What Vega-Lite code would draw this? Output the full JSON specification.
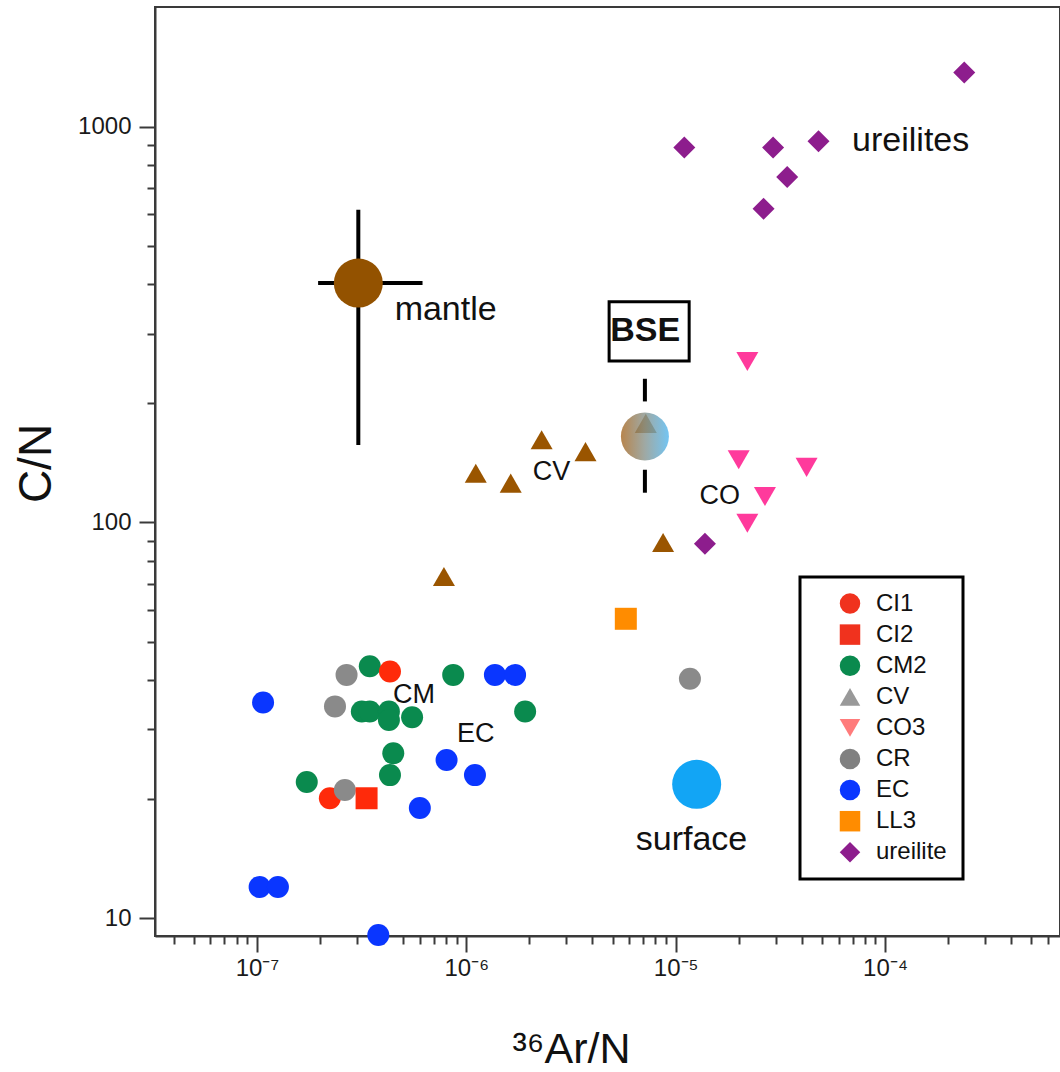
{
  "$schema": "https://vega.github.io/schema/vega-lite/v6.json",
  "width": 905,
  "height": 929,
  "autosize": {"type": "none"},
  "padding": {"left": 155, "top": 7, "right": 0, "bottom": 136},
  "background": "white",
  "config": {
    "font": "Liberation Sans",
    "view": {"stroke": "#3a3a3a", "strokeWidth": 2},
    "legend": {"strokeWidth": 3},
    "axis": {"grid": false, "domainColor": "#3a3a3a", "domainWidth": 2, "tickColor": "#3a3a3a", "tickWidth": 2, "labelColor": "#1a1a1a", "titleColor": "#111", "labelFont": "Liberation Sans", "titleFont": "Liberation Sans", "titleFontWeight": "normal"}
  },
  "datasets": {
    "pts": [
      {"group": "CM2", "x": 3.46e-7, "y": 43.3},
      {"group": "CM2", "x": 8.66e-7, "y": 41.2},
      {"group": "CM2", "x": 3.17e-7, "y": 33.3},
      {"group": "CM2", "x": 3.46e-7, "y": 33.3},
      {"group": "CM2", "x": 4.27e-7, "y": 33.3},
      {"group": "CM2", "x": 4.27e-7, "y": 31.7},
      {"group": "CM2", "x": 5.51e-7, "y": 32.2},
      {"group": "CM2", "x": 1.91e-6, "y": 33.3},
      {"group": "CM2", "x": 4.48e-7, "y": 26.1},
      {"group": "CM2", "x": 4.32e-7, "y": 23.0},
      {"group": "CM2", "x": 1.73e-7, "y": 22.1},
      {"group": "CI1", "x": 4.32e-7, "y": 42.0},
      {"group": "CI1", "x": 2.23e-7, "y": 20.1},
      {"group": "CR", "x": 2.68e-7, "y": 41.2},
      {"group": "CR", "x": 2.36e-7, "y": 34.3},
      {"group": "CR", "x": 2.63e-7, "y": 21.1},
      {"group": "CR", "x": 1.17e-5, "y": 40.3},
      {"group": "CI2", "x": 3.34e-7, "y": 20.1},
      {"group": "EC", "x": 1.07e-7, "y": 35.1},
      {"group": "EC", "x": 1.37e-6, "y": 41.2},
      {"group": "EC", "x": 1.71e-6, "y": 41.2},
      {"group": "EC", "x": 8.05e-7, "y": 25.1},
      {"group": "EC", "x": 1.10e-6, "y": 23.0},
      {"group": "EC", "x": 6.0e-7, "y": 19.0},
      {"group": "EC", "x": 1.03e-7, "y": 12.0},
      {"group": "EC", "x": 1.26e-7, "y": 12.0},
      {"group": "EC", "x": 3.80e-7, "y": 9.07},
      {"group": "LL3", "x": 5.78e-6, "y": 57.1},
      {"group": "CV", "x": 1.11e-6, "y": 133.2},
      {"group": "CV", "x": 1.63e-6, "y": 125.7},
      {"group": "CV", "x": 2.29e-6, "y": 161.8},
      {"group": "CV", "x": 3.71e-6, "y": 151.0},
      {"group": "CV", "x": 8.71e-6, "y": 89.0},
      {"group": "CV", "x": 7.82e-7, "y": 73.0},
      {"group": "CV", "x": 7.2e-6, "y": 178.0},
      {"group": "CO3", "x": 2.20e-5, "y": 255.0},
      {"group": "CO3", "x": 2.00e-5, "y": 144.0},
      {"group": "CO3", "x": 4.22e-5, "y": 137.8},
      {"group": "CO3", "x": 2.67e-5, "y": 116.3},
      {"group": "CO3", "x": 2.20e-5, "y": 99.6},
      {"group": "ureilite", "x": 1.10e-5, "y": 886},
      {"group": "ureilite", "x": 2.92e-5, "y": 886},
      {"group": "ureilite", "x": 4.81e-5, "y": 918},
      {"group": "ureilite", "x": 3.41e-5, "y": 746},
      {"group": "ureilite", "x": 2.63e-5, "y": 620},
      {"group": "ureilite", "x": 2.39e-4, "y": 1371},
      {"group": "ureilite", "x": 1.38e-5, "y": 88.4}
    ],
    "bars": [
      {"x": 3.05e-7, "x2": 3.05e-7, "y": 617, "y2": 157},
      {"x": 1.96e-7, "x2": 6.18e-7, "y": 402.7, "y2": 402.7},
      {"x": 7.13e-6, "x2": 7.13e-6, "y": 230.7, "y2": 202.2},
      {"x": 7.13e-6, "x2": 7.13e-6, "y": 135.9, "y2": 118.9}
    ],
    "mantle": [{"name": "mantle", "x": 3.05e-7, "y": 402.7}],
    "surface": [{"name": "surface", "x": 1.26e-5, "y": 21.8}],
    "bse": [{"name": "BSE", "x": 7.13e-6, "y": 164.9}],
    "box": [{"x": 4.81e-6, "x2": 1.16e-5, "y": 256, "y2": 361}],
    "bigLabels": [
      {"text": "mantle", "x": 7.97e-7, "y": 325.2},
      {"text": "surface", "x": 1.19e-5, "y": 14.88},
      {"text": "ureilites", "x": 1.326e-4, "y": 866}
    ],
    "smallLabels": [
      {"text": "CV", "x": 2.555e-6, "y": 128.2},
      {"text": "CO", "x": 1.626e-5, "y": 111.4},
      {"text": "CM", "x": 5.63e-7, "y": 34.95},
      {"text": "EC", "x": 1.109e-6, "y": 27.95}
    ],
    "bseLabel": [{"text": "BSE", "x": 7.15e-6, "y": 304}]
  },
  "encoding": {
    "x": {
      "field": "x", "type": "quantitative",
      "scale": {"type": "log", "domain": [3.26e-8, 6.85e-4], "nice": false},
      "axis": {
        "title": "³⁶Ar/N",
        "orient": "bottom",
        "values": [4e-8, 5e-8, 6e-8, 7e-8, 8e-8, 9e-8, 1e-7, 2e-7, 3e-7, 4e-7, 5e-7, 6e-7, 7e-7, 8e-7, 9e-7, 1e-6, 2e-6, 3e-6, 4e-6, 5e-6, 6e-6, 7e-6, 8e-6, 9e-6, 1e-5, 2e-5, 3e-5, 4e-5, 5e-5, 6e-5, 7e-5, 8e-5, 9e-5, 1e-4, 2e-4, 3e-4, 4e-4, 5e-4, 6e-4],
        "tickSize": {"condition": {"test": "abs(log(datum.value)/LN10 - round(log(datum.value)/LN10)) < 0.001", "value": 16}, "value": 8},
        "labelExpr": "abs(log(datum.value)/LN10 - round(log(datum.value)/LN10)) > 0.001 ? '' : (round(log(datum.value)/LN10) == -7 ? '10⁻⁷' : round(log(datum.value)/LN10) == -6 ? '10⁻⁶' : round(log(datum.value)/LN10) == -5 ? '10⁻⁵' : '10⁻⁴')",
        "labelFontSize": 24,
        "labelPadding": 4,
        "labelOverlap": false,
        "labelFlush": false,
        "labelBound": false,
        "titleFontSize": 43,
        "titleX": 416,
        "titleY": 126,
        "titleAlign": "center",
        "titleBaseline": "alphabetic"
      }
    },
    "y": {
      "field": "y", "type": "quantitative",
      "scale": {"type": "log", "domain": [9.02, 2006], "nice": false},
      "axis": {
        "title": "C/N",
        "orient": "left",
        "values": [20, 30, 40, 50, 60, 70, 80, 90, 10, 100, 200, 300, 400, 500, 600, 700, 800, 900, 1000],
        "tickSize": {"condition": {"test": "abs(log(datum.value)/LN10 - round(log(datum.value)/LN10)) < 0.001", "value": 16}, "value": 8},
        "labelExpr": "abs(log(datum.value)/LN10 - round(log(datum.value)/LN10)) > 0.001 ? '' : format(datum.value, 'd')",
        "labelFontSize": 24,
        "labelPadding": 8,
        "labelOverlap": false,
        "labelFlush": false,
        "labelBound": false,
        "titleFontSize": 46,
        "titleX": -105,
        "titleY": 456,
        "titleAlign": "center",
        "titleBaseline": "alphabetic",
        "titleAngle": 270
      }
    }
  },
  "layer": [
    {
      "data": {"name": "pts"},
      "mark": {"type": "point", "filled": true, "opacity": 1, "strokeWidth": 0},
      "encoding": {
        "color": {
          "field": "group", "type": "nominal",
          "scale": {"domain": ["CI1", "CI2", "CM2", "CV", "CO3", "CR", "EC", "LL3", "ureilite"],
                    "range": ["#ff2a0a", "#ff2a0a", "#0a8a4e", "#9a5500", "#ff3a9c", "#8a8a8a", "#0a36ff", "#ff8c00", "#8d1d8d"]},
          "legend": null
        },
        "shape": {
          "field": "group", "type": "nominal",
          "scale": {"domain": ["CI1", "CI2", "CM2", "CV", "CO3", "CR", "EC", "LL3", "ureilite"],
                    "range": ["circle", "square", "circle", "triangle-up", "triangle-down", "circle", "circle", "square", "diamond"]},
          "legend": null
        },
        "size": {
          "field": "group", "type": "nominal",
          "scale": {"domain": ["CI1", "CI2", "CM2", "CV", "CO3", "CR", "EC", "LL3", "ureilite"],
                    "range": [484, 484, 484, 324, 324, 484, 484, 484, 441]},
          "legend": null
        }
      }
    },
    {
      "data": {"name": "bars"},
      "mark": {"type": "rule", "color": "#000", "strokeWidth": 4},
      "encoding": {
        "x2": {"field": "x2"},
        "y2": {"field": "y2"}
      }
    },
    {
      "data": {"name": "mantle"},
      "mark": {"type": "point", "filled": true, "opacity": 1, "shape": "circle", "size": 2401, "color": "#935200", "strokeWidth": 0},
      "encoding": {}
    },
    {
      "data": {"name": "surface"},
      "mark": {"type": "point", "filled": true, "opacity": 1, "shape": "circle", "size": 2401, "color": "#12a5f5", "strokeWidth": 0},
      "encoding": {}
    },
    {
      "data": {"name": "bse"},
      "mark": {"type": "point", "filled": true, "opacity": 0.82, "shape": "circle", "size": 2304, "strokeWidth": 0,
               "color": {"gradient": "linear", "x1": 0, "y1": 0, "x2": 1, "y2": 0, "stops": [{"offset": 0, "color": "#a86a26"}, {"offset": 0.5, "color": "#8a9690"}, {"offset": 1, "color": "#55b8f0"}]}},
      "encoding": {}
    },
    {
      "data": {"name": "box"},
      "mark": {"type": "rect", "fill": "white", "fillOpacity": 0, "stroke": "#000", "strokeWidth": 3},
      "encoding": {
        "x2": {"field": "x2"},
        "y2": {"field": "y2"}
      }
    },
    {
      "data": {"name": "bigLabels"},
      "mark": {"type": "text", "fontSize": 34, "font": "Liberation Sans", "color": "#111", "align": "center", "baseline": "alphabetic"},
      "encoding": {"text": {"field": "text"}}
    },
    {
      "data": {"name": "smallLabels"},
      "mark": {"type": "text", "fontSize": 27, "font": "Liberation Sans", "color": "#111", "align": "center", "baseline": "alphabetic"},
      "encoding": {"text": {"field": "text"}}
    },
    {
      "data": {"name": "bseLabel"},
      "mark": {"type": "text", "fontSize": 34, "fontWeight": "bold", "font": "Liberation Sans", "color": "#111", "align": "center", "baseline": "middle"},
      "encoding": {"text": {"field": "text"}}
    },
    {
      "data": {"name": "pts"},
      "transform": [{"filter": "datum.x < 0"}],
      "mark": {"type": "point", "filled": true, "opacity": 1, "strokeWidth": 0},
      "encoding": {
        "color": {
          "field": "group", "type": "nominal",
          "scale": {"domain": ["CI1", "CI2", "CM2", "CV", "CO3", "CR", "EC", "LL3", "ureilite"],
                    "range": ["#f0321e", "#f0321e", "#0a8a4e", "#999999", "#ff7b7b", "#808080", "#0a36ff", "#ff8c00", "#8d1d8d"]},
          "legend": {"orient": "none", "legendX": 645, "legendY": 570, "title": "\u2003", "titleOrient": "right", "titlePadding": 2, "titleFontSize": 10, "padding": 14.5, "strokeColor": "#000", "fillColor": "#ffffff", "symbolSize": 420, "symbolOffset": 23.5, "labelOffset": 14, "labelFontSize": 24, "labelFont": "Liberation Sans", "labelColor": "#111", "rowPadding": 7.1, "symbolStrokeWidth": 0}
        },
        "shape": {
          "field": "group", "type": "nominal",
          "scale": {"domain": ["CI1", "CI2", "CM2", "CV", "CO3", "CR", "EC", "LL3", "ureilite"],
                    "range": ["circle", "square", "circle", "triangle-up", "triangle-down", "circle", "circle", "square", "diamond"]},
          "legend": {"orient": "none", "legendX": 645, "legendY": 570, "title": "\u2003", "titleOrient": "right", "titlePadding": 2, "titleFontSize": 10, "padding": 14.5, "strokeColor": "#000", "fillColor": "#ffffff", "symbolSize": 420, "symbolOffset": 23.5, "labelOffset": 14, "labelFontSize": 24, "labelFont": "Liberation Sans", "labelColor": "#111", "rowPadding": 7.1, "symbolStrokeWidth": 0}
        }
      }
    }
  ],
  "resolve": {"scale": {"color": "independent", "shape": "independent", "size": "independent"}}
}
